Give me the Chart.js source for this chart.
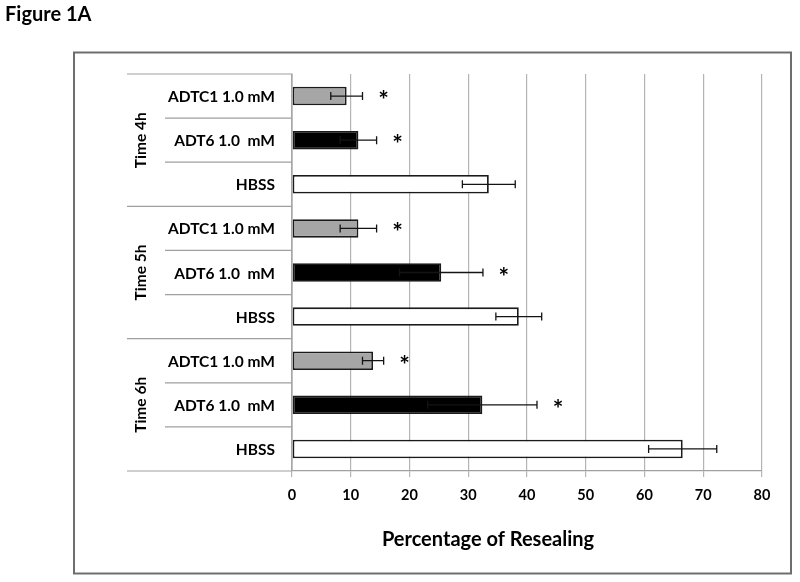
<!DOCTYPE html>
<html>
<head>
<meta charset="utf-8">
<script src="https://cdn.jsdelivr.net/npm/chart.js@4.4.1/dist/chart.umd.min.js"></script>
<style>
  html, body { margin: 0; padding: 0; background: #ffffff; }
  #wrap { position: relative; width: 800px; height: 582px; }
</style>
</head>
<body>
<div id="wrap"><canvas id="c" width="800" height="582"></canvas></div>
<script>
// ---- data ----
const figureTitle = 'Figure 1A';
const axisTitle = 'Percentage of Resealing';
const groups = ['Time 4h', 'Time 5h', 'Time 6h'];
const treatments = ['ADTC1 1.0 mM', 'ADT6 1.0  mM', 'HBSS'];
const adtc1Means = [9.3, 11.3, 13.8];
const adtc1Errors = [2.7, 3.1, 1.8];
const adt6Means = [11.3, 25.4, 32.4];
const adt6Errors = [3.1, 7.1, 9.3];
const hbssMeans = [33.5, 38.6, 66.5];
const hbssErrors = [4.5, 3.9, 5.8];
const adtc1Significant = [true, true, true];
const adt6Significant = [true, true, true];
const hbssSignificant = [false, false, false];
const xTicks = [0, 10, 20, 30, 40, 50, 60, 70, 80];

// ---- styles ----
const treatmentFill = ['#a6a6a6', '#000000', '#ffffff'];
const FONT = 'Lato, "Open Sans", sans-serif';

// ---- build rows (group order top to bottom) ----
const rowLabels = [], rowValues = [], rowErrors = [], rowSig = [], rowFill = [];
const meansBy = [adtc1Means, adt6Means, hbssMeans];
const errsBy = [adtc1Errors, adt6Errors, hbssErrors];
const sigBy = [adtc1Significant, adt6Significant, hbssSignificant];
groups.forEach((g, gi) => {
  treatments.forEach((t, ti) => {
    rowLabels.push(t);
    rowValues.push(meansBy[ti][gi]);
    rowErrors.push(errsBy[ti][gi]);
    rowSig.push(sigBy[ti][gi]);
    rowFill.push(treatmentFill[ti]);
  });
});

const decorPlugin = {
  id: 'decor',
  beforeDraw(chart) {
    const ctx = chart.ctx;
    ctx.save();
    ctx.fillStyle = '#ffffff';
    ctx.fillRect(0, 0, chart.width, chart.height);
    ctx.fillStyle = '#000';
    ctx.font = 'bold 20px ' + FONT;
    ctx.textAlign = 'left';
    ctx.textBaseline = 'alphabetic';
    ctx.fillText(figureTitle, 5, 21);
    ctx.strokeStyle = '#6e6e6e';
    ctx.lineWidth = 2;
    ctx.strokeRect(74, 52.5, 717, 521);
    ctx.restore();
  },
  afterDatasetsDraw(chart) {
    const ctx = chart.ctx;
    const x = chart.scales.x, y = chart.scales.y;
    const area = chart.chartArea;
    const band = (y.getPixelForValue(1) - y.getPixelForValue(0));
    ctx.save();
    ctx.strokeStyle = '#a0a0a0';
    ctx.lineWidth = 1.2;
    const axisX = area.left;
    ctx.beginPath();
    ctx.moveTo(axisX, area.top - 0.5);
    ctx.lineTo(axisX, area.bottom);
    for (let i = 0; i <= rowLabels.length; i++) {
      const yy = y.getPixelForValue(i) - band / 2;
      const isGroupEdge = (i % treatments.length === 0);
      ctx.moveTo(isGroupEdge ? 127 : 165, yy);
      ctx.lineTo(axisX, yy);
    }
    ctx.stroke();
    ctx.fillStyle = '#000';
    ctx.font = 'bold 15.5px ' + FONT;
    ctx.textAlign = 'right';
    ctx.textBaseline = 'middle';
    rowLabels.forEach((l, i) => {
      ctx.fillText(l, 275, y.getPixelForValue(i) + 1);
    });
    groups.forEach((g, gi) => {
      const first = y.getPixelForValue(gi * treatments.length);
      const last = y.getPixelForValue(gi * treatments.length + treatments.length - 1);
      const cy = (first + last) / 2;
      ctx.save();
      ctx.translate(141, cy);
      ctx.rotate(-Math.PI / 2);
      ctx.textAlign = 'center';
      ctx.textBaseline = 'middle';
      ctx.fillText(g, 0, 0);
      ctx.restore();
    });
    const meta = chart.getDatasetMeta(0);
    ctx.strokeStyle = '#141414';
    ctx.lineWidth = 1.3;
    meta.data.forEach((bar, i) => {
      const yy = bar.y;
      const x1 = x.getPixelForValue(rowValues[i] - rowErrors[i]);
      const x2 = x.getPixelForValue(rowValues[i] + rowErrors[i]);
      ctx.beginPath();
      ctx.moveTo(x1, yy); ctx.lineTo(x2, yy);
      ctx.moveTo(x1, yy - 4); ctx.lineTo(x1, yy + 4);
      ctx.moveTo(x2, yy - 4); ctx.lineTo(x2, yy + 4);
      ctx.stroke();
      if (rowSig[i]) {
        ctx.fillStyle = '#000';
        ctx.font = 'bold 25px ' + FONT;
        ctx.textAlign = 'center';
        ctx.textBaseline = 'middle';
        ctx.fillText('*', x2 + 21, yy + 5);
      }
    });
    ctx.fillStyle = '#000';
    ctx.font = 'bold 20px ' + FONT;
    ctx.textAlign = 'center';
    ctx.textBaseline = 'middle';
    ctx.fillText(axisTitle, 488, 540);
    ctx.restore();
  }
};

new Chart(document.getElementById('c'), {
  type: 'bar',
  data: {
    labels: rowLabels,
    datasets: [{
      data: rowValues,
      backgroundColor: rowFill,
      borderColor: '#1a1a1a',
      borderWidth: 1.8,
      borderSkipped: false,
      categoryPercentage: 1,
      barPercentage: 0.42
    }]
  },
  options: {
    indexAxis: 'y',
    responsive: false,
    animation: false,
    devicePixelRatio: 1,
    layout: { padding: { left: 292, right: 38, top: 74, bottom: 0 } },
    plugins: { legend: { display: false }, tooltip: { enabled: false } },
    scales: {
      x: {
        type: 'linear',
        min: xTicks[0],
        max: xTicks[xTicks.length - 1],
        afterBuildTicks(scale) { scale.ticks = xTicks.map(v => ({ value: v })); },
        afterFit(scale) { scale.height = 111; },
        grid: { color: '#b4b4b4', lineWidth: 1.2, tickLength: 6, drawTicks: true },
        border: { display: true, color: '#a0a0a0', width: 1.2 },
        ticks: { color: '#000', font: { family: FONT, size: 14.5, weight: 'bold' }, padding: 10, maxRotation: 0 }
      },
      y: {
        type: 'category',
        afterFit(scale) { scale.width = 0; },
        grid: { display: false },
        border: { display: false },
        ticks: { display: false }
      }
    }
  },
  plugins: [decorPlugin]
});
</script>
</body>
</html>
